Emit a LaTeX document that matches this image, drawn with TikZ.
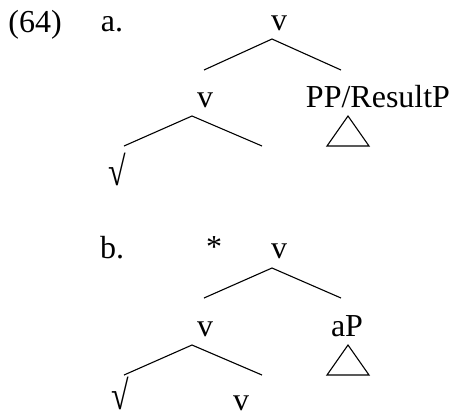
\documentclass[tikz,border=0pt]{standalone}
\usepackage{fontspec}
\usepackage{graphicx}
\setmainfont{Liberation Serif}
\newcommand{\tallroot}{\scalebox{1}[1.28]{√}}
\begin{document}
\begin{tikzpicture}[x=1pt,y=-1pt,
  lbl/.style={anchor=base,inner sep=0pt,font=\fontsize{32}{38}\selectfont},
  rootlbl/.style={anchor=south,inner sep=0pt,font=\fontsize{32}{38}\selectfont},
  edge/.style={line width=1.1pt},
  tri/.style={line width=1.1pt,line join=miter}]
\useasboundingbox (0,0) rectangle (454,416);
% (a)
\node[lbl] (ex) at (35,32) {(64)};
\node[lbl] (la) at (112,31) {a.};
\node[lbl] (av) at (279,30) {v};
\node[lbl] (avm) at (205,107) {v};
\node[lbl] (app) at (378,107) {PP/ResultP};
\node[rootlbl] (aroot) at (117,186) {\tallroot};
\coordinate (a1) at (272,39);
\coordinate (a2) at (204,70);
\coordinate (a3) at (341,70);
\draw[edge] (a2) -- (a1) -- (a3);
\coordinate (a4) at (192,116);
\coordinate (a5) at (124,146);
\coordinate (a6) at (262,146);
\draw[edge] (a5) -- (a4) -- (a6);
\coordinate (at1) at (348,116);
\coordinate (at2) at (327,146);
\coordinate (at3) at (369,146);
\draw[tri] (at1) -- (at2) -- (at3) -- cycle;
% (b)
\node[lbl] (lb) at (112,258) {b.};
\node[lbl] (star) at (214,257) {*};
\node[lbl] (bv) at (279,258) {v};
\node[lbl] (bvm) at (205,336) {v};
\node[lbl] (bap) at (347,336) {aP};
\node[rootlbl] (broot) at (120,410) {\tallroot};
\node[lbl] (bvl) at (241,410) {v};
\coordinate (b1) at (272,268);
\coordinate (b2) at (204,298);
\coordinate (b3) at (341,298);
\draw[edge] (b2) -- (b1) -- (b3);
\coordinate (b4) at (192,345);
\coordinate (b5) at (124,375);
\coordinate (b6) at (262,375);
\draw[edge] (b5) -- (b4) -- (b6);
\coordinate (bt1) at (348,345);
\coordinate (bt2) at (327,375);
\coordinate (bt3) at (369,375);
\draw[tri] (bt1) -- (bt2) -- (bt3) -- cycle;
\end{tikzpicture}
\end{document}
